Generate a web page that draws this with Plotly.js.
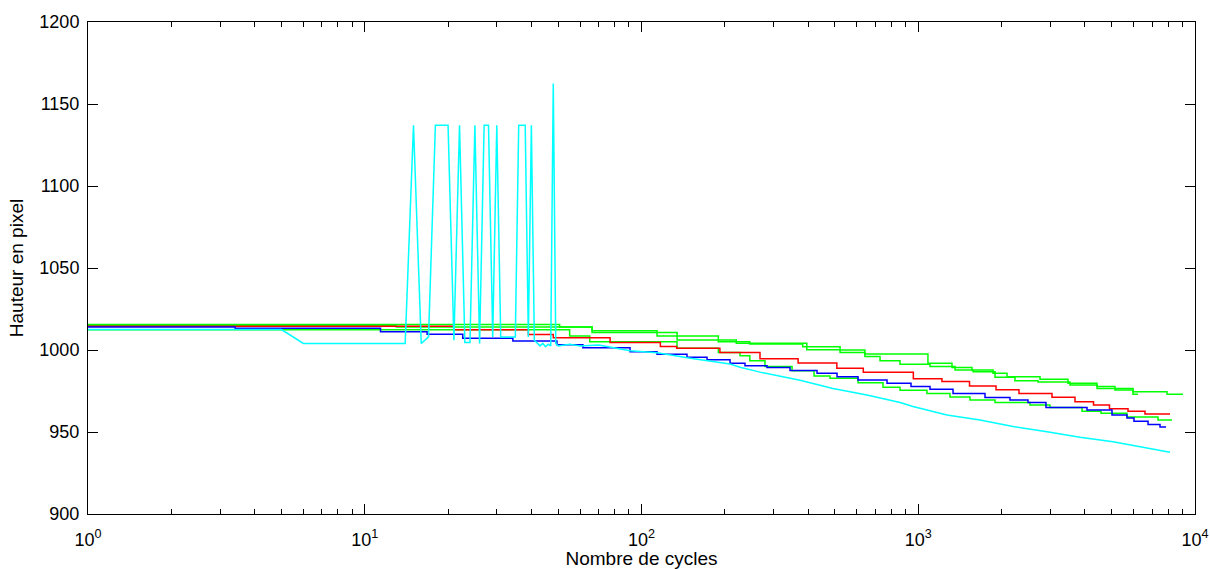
<!DOCTYPE html>
<html>
<head>
<meta charset="utf-8">
<script src="https://cdn.plot.ly/plotly-3.0.1.min.js"></script>
<style>
  html, body { margin: 0; padding: 0; background: #fff; }
  #chart { width: 1210px; height: 569px; }
</style>
</head>
<body>
<div id="chart"></div>
<script>
// ---- Data ----
const cyanX = [1,2,3,4,5,6,7,8,9,10,11,12,13,14,15,16,17,18,19,20,21,22,23,24,25,26,27,28,29,30,31,32,33,34,35,36,37,38,39,40,41,42,43,44,45,46,47,48,49,50,55,60,70,91,114,150,209,227,268,374,492,652,860,957,1270,1672,2200,2919,3841,5055,6708,8123];
const cyanY = [1012.5,1012.5,1012.5,1012.5,1012.5,1004,1004,1004,1004,1004,1004,1004,1004,1004,1137,1004,1008,1137,1137,1137,1006,1137,1004.5,1004.5,1137,1004,1137,1137,1008,1137,1008,1008,1008,1008,1008,1137,1137,1137,1008,1137,1006,1004,1002.5,1004,1002,1003.5,1002.5,1162.5,1004,1002.5,1003.5,1002.5,1003,999.5,998.3,995,991.5,989.5,986.5,981.5,976.5,972.5,968,965.5,960.4,957.3,953.3,950.2,946.8,944.1,940,937.6];

const redX = [1,21,39,48,77,117,134,192,268,368,508,633,960,1218,1532,1910,2312,3043,3685,4298,4909,5728,6597,8123];
const redY = [1014.5,1012.3,1009.5,1007.5,1004.5,1002.2,1001,998.5,994.6,992,988.8,986.4,982.5,980.8,978.1,975.8,973.4,971.2,968.5,966.5,964.2,962.6,961,961];

const blueX = [1,3.4,11.4,16.8,22.6,34.3,49.5,61.4,90.9,113.8,146,172.5,208.9,236.6,284.1,344.1,430.8,508.8,605.8,771.3,941.6,1102.8,1335.5,1742.5,2145,2492,2894,4072,5013,5679,6019,6766,7474,7858];
const blueY = [1014,1013.3,1011.2,1009.6,1007.1,1005.5,1003.2,1001.4,999,997.4,995.6,994,991.9,990.4,989.4,987.5,985.8,983.7,981.7,979.7,977.7,976,973.5,971,969.5,968,965,963.4,960.3,958.5,956.6,954.6,953,953];

const green1X = [1,50.6,66.3,113.8,189.5,246.3,382.5,521.8,641.5,1084,1324,1564,1863,2093,2754,3476,4425,5139,5970,7923,9050];
const green1Y = [1015.5,1014,1011.8,1008.5,1005,1003.7,1002,1000,997.6,991.9,989.4,987.8,985.8,983.7,982.1,979.7,977.7,975.6,974.6,973,973];

const green2X = [1,13,66.3,134.5,220,395.6,521.8,641.5,727.6,859.3,1103,1358,1577,1894,2236,2709,3534,4425,5970,6223];
const green2Y = [1015,1014,1010.6,1006.1,1004.1,1000.2,998.4,996,993.5,991.3,990,987.8,986.8,983.4,981.3,980.5,978.7,976.6,973,973];

const green3X = [1,55,65,134.4,189.5,226.9,246.3,279.4,349.9,420.2,480,605.8,745.8,859.3,1075,1302,1538,1894,2534,2992,3906,4575,5679,7350,8259];
const green3Y = [1012.3,1008.5,1005,1001,998.4,996.5,993.5,990,987.3,984.2,982.7,980,977.3,975.5,973.4,971.4,969.5,968,966.5,965,962.7,961.5,959.2,957.3,957.3];

const xTickVals = [1,10,100,1000,10000];
const xTickText = ['10<sup>0</sup>','10<sup>1</sup>','10<sup>2</sup>','10<sup>3</sup>','10<sup>4</sup>'];
const yTickVals = [900,950,1000,1050,1100,1150,1200];

// ---- Traces ----
function stepTrace(x, y, color) {
  return {x: x, y: y, type: 'scatter', mode: 'lines',
          line: {color: color, width: 1.5, shape: 'hv'}, hoverinfo: 'skip'};
}
const traces = [
  stepTrace(green1X, green1Y, '#00ff00'),
  stepTrace(green2X, green2Y, '#00ff00'),
  stepTrace(green3X, green3Y, '#00ff00'),
  stepTrace(redX, redY, '#ff0000'),
  stepTrace(blueX, blueY, '#0000ff'),
  {x: cyanX, y: cyanY, type: 'scatter', mode: 'lines',
   line: {color: '#00ffff', width: 1.5}, hoverinfo: 'skip'}
];

const FAM = 'Liberation Sans, Arial, sans-serif';
const axisFont = {family: FAM, size: 18, color: '#000'};
const titleFont = {family: FAM, size: 19, color: '#000'};
const layout = {
  width: 1210, height: 569,
  margin: {l: 88, r: 15, t: 22, b: 55},
  paper_bgcolor: '#fff', plot_bgcolor: '#fff',
  showlegend: false,
  xaxis: {
    type: 'log', range: [0, 4],
    tickvals: xTickVals, ticktext: xTickText,
    ticks: 'inside', ticklen: 10, tickcolor: '#000', tickwidth: 1,
    minor: {ticks: 'inside', ticklen: 5, tickcolor: '#000', dtick: 'D1', showgrid: false},
    showline: true, linecolor: '#000', linewidth: 1, mirror: 'ticks',
    showgrid: false, zeroline: false,
    tickfont: axisFont, ticklabelstandoff: 9,
    title: {text: 'Nombre de cycles', font: titleFont, standoff: 0},
    automargin: false
  },
  yaxis: {
    range: [900, 1200],
    tickvals: yTickVals,
    ticks: 'inside', ticklen: 10, tickcolor: '#000', tickwidth: 1,
    showline: true, linecolor: '#000', linewidth: 1, mirror: 'ticks',
    showgrid: false, zeroline: false,
    tickfont: axisFont, ticklabelstandoff: 4,
    title: {text: 'Hauteur en pixel', font: titleFont, standoff: 10},
    automargin: false
  }
};

Plotly.newPlot('chart', traces, layout, {displayModeBar: false, staticPlot: true});
</script>
</body>
</html>
